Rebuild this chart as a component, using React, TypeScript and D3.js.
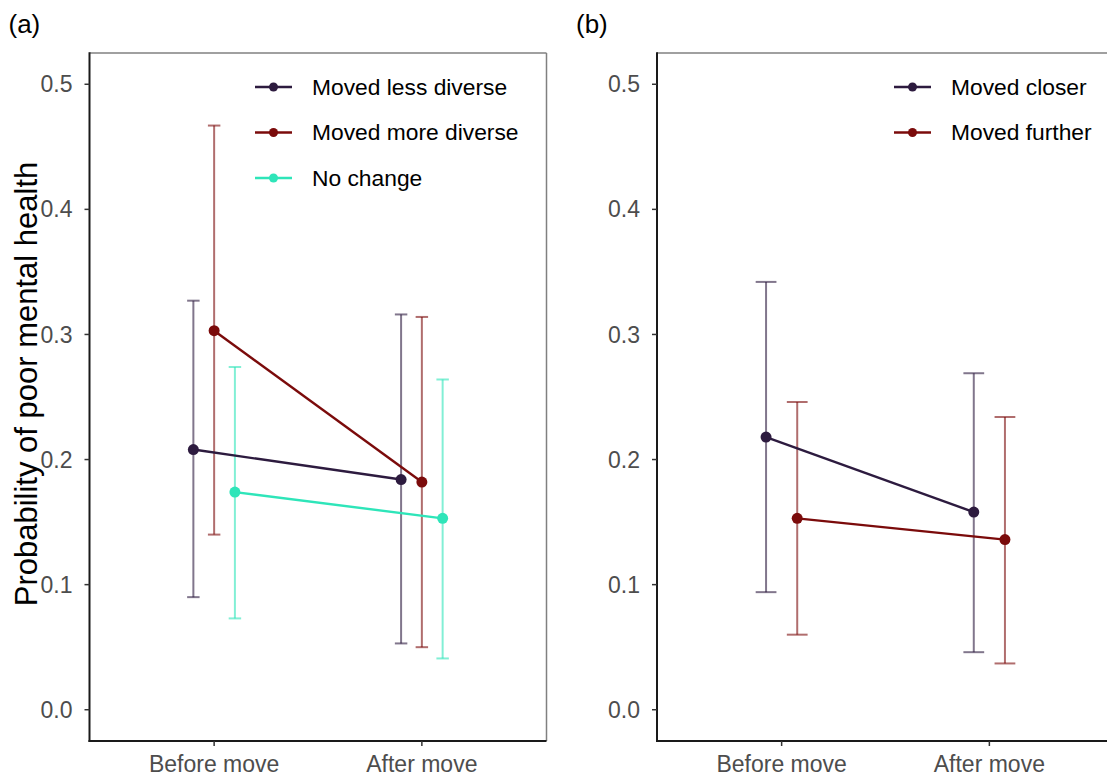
import * as d3 from 'd3';

const TIMES = ['Before move', 'After move'];
const Y_TICKS = [0, 0.1, 0.2, 0.3, 0.4, 0.5];

// panel (a): neighbourhood diversity
const lessDiverseEst = [0.208, 0.184];
const lessDiverseLo = [0.09, 0.053];
const lessDiverseHi = [0.327, 0.316];
const moreDiverseEst = [0.303, 0.182];
const moreDiverseLo = [0.14, 0.05];
const moreDiverseHi = [0.467, 0.314];
const noChangeEst = [0.174, 0.153];
const noChangeLo = [0.073, 0.041];
const noChangeHi = [0.274, 0.264];

// panel (b): distance
const closerEst = [0.218, 0.158];
const closerLo = [0.094, 0.046];
const closerHi = [0.342, 0.269];
const furtherEst = [0.153, 0.136];
const furtherLo = [0.06, 0.037];
const furtherHi = [0.246, 0.234];

const PURPLE = '#2d1b3f';
const RED = '#7b0b0b';
const TEAL = '#2ee5b9';

const seriesA = [
  { name: 'Moved less diverse', color: PURPLE, est: lessDiverseEst, lo: lessDiverseLo, hi: lessDiverseHi },
  { name: 'Moved more diverse', color: RED, est: moreDiverseEst, lo: moreDiverseLo, hi: moreDiverseHi },
  { name: 'No change', color: TEAL, est: noChangeEst, lo: noChangeLo, hi: noChangeHi },
];
const seriesB = [
  { name: 'Moved closer', color: PURPLE, est: closerEst, lo: closerLo, hi: closerHi },
  { name: 'Moved further', color: RED, est: furtherEst, lo: furtherLo, hi: furtherHi },
];

const FONT = 'Liberation Sans, Arial, sans-serif';
const TOP = 53;
const BOTTOM = 741;
const DODGE = 0.3;

type Series = { name: string; color: string; est: number[]; lo: number[]; hi: number[] };

const Panel = ({ left, right, series, capWidth, label, legendX, showTitle }: {
  left: number; right: number; series: Series[]; capWidth: number;
  label: string; legendX: number; showTitle: boolean;
}) => {
  const x = d3.scaleLinear().domain([0.4, 2.6]).range([left, right]);
  const y = d3.scaleLinear().domain([-0.025, 0.525]).range([BOTTOM, TOP]);
  const n = series.length;
  // ggplot-style dodge
  const offset = (i: number) => (i - (n - 1) / 2) * (DODGE / n);

  return (
    <g>
      <text x={left - 81} y={33} fontSize={26} fontFamily={FONT}>{label}</text>
      {/* border */}
      <line x1={left} x2={right} y1={TOP} y2={TOP} stroke="#808080" strokeWidth={1.5} />
      <line x1={right} x2={right} y1={TOP} y2={BOTTOM} stroke="#808080" strokeWidth={1.5} />
      <line x1={left} x2={left} y1={TOP - 0.75} y2={BOTTOM + 1} stroke="#1a1a1a" strokeWidth={2} />
      <line x1={left - 1} x2={right} y1={BOTTOM} y2={BOTTOM} stroke="#1a1a1a" strokeWidth={2} />

      {Y_TICKS.map(t => (
        <g key={`y${t}`}>
          <line x1={left - 5} x2={left} y1={y(t)} y2={y(t)} stroke="#333" strokeWidth={1.5} />
          <text x={left - 17} y={y(t)} dy="0.35em" textAnchor="end" fontSize={23}
            fill="#4d4d4d" fontFamily={FONT}>{t.toFixed(1)}</text>
        </g>
      ))}
      {TIMES.map((t, i) => (
        <g key={t}>
          <line x1={x(i + 1)} x2={x(i + 1)} y1={BOTTOM} y2={BOTTOM + 5} stroke="#333" strokeWidth={1.5} />
          <text x={x(i + 1)} y={772} textAnchor="middle" fontSize={23}
            fill="#4d4d4d" fontFamily={FONT}>{t}</text>
        </g>
      ))}
      {showTitle && (
        <text transform={`translate(37,${(TOP + BOTTOM) / 2 - 13}) rotate(-90)`} textAnchor="middle"
          fontSize={31} fontFamily={FONT}>Probability of poor mental health</text>
      )}

      {/* error bars */}
      {series.map((s, si) => TIMES.map((t, ti) => {
        const cx = x(ti + 1 + offset(si));
        const hw = (x(capWidth) - x(0)) / 2;
        return (
          <g key={`eb${si}${ti}`} stroke={s.color} strokeOpacity={0.6} strokeWidth={2}>
            <line x1={cx} x2={cx} y1={y(s.lo[ti])} y2={y(s.hi[ti])} />
            <line x1={cx - hw} x2={cx + hw} y1={y(s.lo[ti])} y2={y(s.lo[ti])} />
            <line x1={cx - hw} x2={cx + hw} y1={y(s.hi[ti])} y2={y(s.hi[ti])} />
          </g>
        );
      }))}
      {/* lines */}
      {series.map((s, si) => {
        const path = d3.line<number>()
          .x((_, ti) => x(ti + 1 + offset(si)))
          .y(v => y(v));
        return <path key={`l${si}`} d={path(s.est) ?? ''} fill="none" stroke={s.color} strokeWidth={2.4} />;
      })}
      {series.map((s, si) => s.est.map((v, ti) => (
        <circle key={`p${si}${ti}`} cx={x(ti + 1 + offset(si))} cy={y(v)} r={5.5} fill={s.color} />
      )))}

      {/* legend */}
      {series.map((s, si) => {
        const ly = 87 + si * 45.5;
        return (
          <g key={`lg${si}`}>
            <line x1={legendX} x2={legendX + 37} y1={ly} y2={ly} stroke={s.color} strokeWidth={2.4} />
            <circle cx={legendX + 18.5} cy={ly} r={4.5} fill={s.color} />
            <text x={legendX + 57} y={ly} dy="0.35em" fontSize={22.8} fontFamily={FONT}>{s.name}</text>
          </g>
        );
      })}
    </g>
  );
};

const App = () => (
  <svg width={1107} height={778} style={{ position: 'absolute', left: 0, top: 0, background: '#fff' }}>
    <rect width={1107} height={778} fill="#fff" />
    <Panel left={89.5} right={546.5} series={seriesA} capWidth={0.06} label="(a)" legendX={255} showTitle />
    <Panel left={657} right={1114} series={seriesB} capWidth={0.1} label="(b)" legendX={894} showTitle={false} />
  </svg>
);

export default App;
